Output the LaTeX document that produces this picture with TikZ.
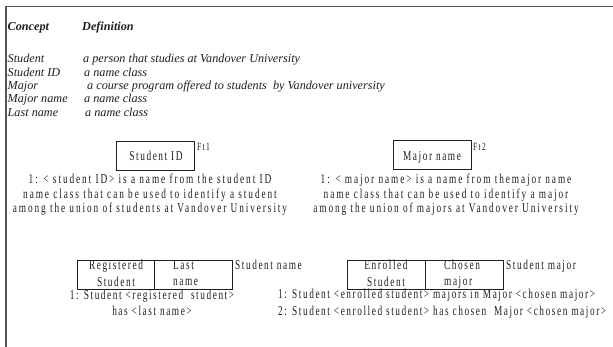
\documentclass[tikz,border=0pt]{standalone}
\usepackage{fontspec}
\setmainfont{Liberation Serif}
\newfontfamily\condfont[FakeStretch=0.685,LetterSpace=11.5]{Liberation Serif}
\newfontfamily\captfont[FakeStretch=0.685,LetterSpace=14]{Liberation Serif}
\definecolor{ink}{HTML}{1E1E1E}
\definecolor{rule}{HTML}{555555}
\begin{document}
\begin{tikzpicture}[x=1pt,y=-1pt,
  every node/.style={inner sep=0pt,text=ink},
  gloss/.style={anchor=base west,font=\fontsize{12.2}{13.3}\selectfont\itshape},
  head/.style={anchor=base west,font=\fontsize{12.2}{13.3}\selectfont\bfseries\itshape},
  cond/.style={font=\condfont\fontsize{13.6}{14.5}\selectfont},
  capt/.style={font=\captfont\fontsize{13.6}{14.5}\selectfont,align=center,anchor=base},
  fact/.style={draw=ink,line width=0.9pt},
  tag/.style={cond,anchor=base west},
  ftag/.style={font=\condfont\fontsize{11}{12}\selectfont,anchor=base west}]
\useasboundingbox (0,0) rectangle (613,347);

% page frame
\draw[rule,line width=1.3pt] (6,347) -- (6,6.5) -- (613,6.5);

% glossary of concepts
\node[head] (hc) at (7.5,30.5) {Concept};
\node[head] (hd) at (82,30.5) {Definition};
\node[gloss] (c1) at (7.5,63) {Student};
\node[gloss] (d1) at (83,63) {a person that studies at Vandover University};
\node[gloss] (c2) at (7.5,76.3) {Student ID};
\node[gloss] (d2) at (84,76.3) {a name class};
\node[gloss] (c3) at (7.5,89.6) {Major};
\node[gloss] (d3) at (87,89.6) {a course program offered to students\ \ by Vandover university};
\node[gloss] (c4) at (7.5,102.9) {Major name};
\node[gloss] (d4) at (84,102.9) {a name class};
\node[gloss] (c5) at (7.5,116.2) {Last name};
\node[gloss] (d5) at (85,116.2) {a name class};

% fact type Ft1 (multi-line nodes sit on the baseline of their last line)
\draw[fact] (116,141) rectangle (194,170);
\node[cond,anchor=base] (sid) at (156,161) {Student ID};
\node[ftag] (ft1) at (197,151) {Ft1};
\node[capt] (cap1) at (150,213) {1: {<} student ID{>} is a name from the student ID\\name class that can be used to identify a student\\among the union of students at Vandover University};

% fact type Ft2
\draw[fact] (393,140) rectangle (471,169);
\node[cond,anchor=base] (mn) at (432,160.5) {Major name};
\node[ftag] (ft2) at (473,151) {Ft2};
\node[capt] (cap2) at (446,213) {1: {<} major name{>} is a name from themajor name\\name class that can be used to identify a major\\among the union of majors at Vandover University};

% fact type Student name
\draw[fact] (77,260) rectangle (232,289);
\draw[fact] (154,260) -- (154,289);
\node[cond,align=center,anchor=base,font=\condfont\fontsize{13.6}{16.5}\selectfont] (rs) at (116,286.3) {Registered\\Student};
\node[cond,align=left,anchor=base west,font=\condfont\fontsize{13.6}{15.5}\selectfont] (ln) at (173,285.5) {Last\\name};
\node[tag] (snm) at (235,269.5) {Student name};
\node[cond,align=center,anchor=base,font=\condfont\fontsize{13.6}{16}\selectfont] (cap3) at (152,315.3) {1: Student {<}registered\ \ student{>}\\has {<}last name{>}};

% fact type Student major
\draw[fact] (347,260) rectangle (503,289);
\draw[fact] (425,260) -- (425,289);
\node[cond,align=center,anchor=base,font=\condfont\fontsize{13.6}{16.5}\selectfont] (es) at (386,286.3) {Enrolled\\Student};
\node[cond,align=left,anchor=base west,font=\condfont\fontsize{13.6}{15.5}\selectfont] (cm) at (444,285.5) {Chosen\\major};
\node[tag] (smj) at (506,269.5) {Student major};
\node[cond,anchor=base west] (cap4a) at (278,299) {1: Student {<}enrolled student{>} majors in Major {<}chosen major{>}};
\node[cond,anchor=base west] (cap4b) at (278,315.3) {2: Student {<}enrolled student{>} has chosen\ \ Major {<}chosen major{>}};
\end{tikzpicture}
\end{document}
